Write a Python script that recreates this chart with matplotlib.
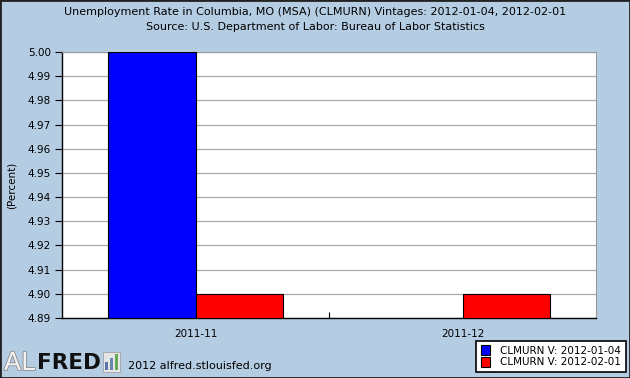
import matplotlib
matplotlib.use("Agg")
import matplotlib.pyplot as plt
import matplotlib.patheffects as pe
from matplotlib.patches import Rectangle
import numpy as np

categories = ["2011-11", "2011-12"]
vintage_1 = [5.00, np.nan]
vintage_2 = [4.90, 4.90]
series_labels = ["CLMURN V: 2012-01-04", "CLMURN V: 2012-02-01"]
yticks = [4.89, 4.90, 4.91, 4.92, 4.93, 4.94, 4.95, 4.96, 4.97, 4.98, 4.99, 5.00]

BG = "#b4cde3"
plt.rcParams['font.family'] = ['DejaVu Sans']

fig = plt.figure(figsize=(6.3, 3.78), dpi=100, facecolor=BG)
fig.patches.append(Rectangle((0, 0), 1, 1, transform=fig.transFigure, fill=False,
                             edgecolor="#222222", linewidth=2, zorder=10))
ax = fig.add_axes([62/630, 1-318/378, (596-62)/630, (318-52)/378])
ax.set_facecolor("white")

x = np.arange(len(categories))
w = 0.326
base = yticks[0]
v1 = np.array(vintage_1)
v2 = np.array(vintage_2)
b1 = ax.bar(x - w/2, v1 - base, w, bottom=base, color="#0000ff", edgecolor="black", linewidth=0.8, zorder=3, label=series_labels[0])
b2 = ax.bar(x + w/2, v2 - base, w, bottom=base, color="#ff0000", edgecolor="black", linewidth=0.8, zorder=3, label=series_labels[1])

ax.set_xlim(-0.5, 1.5)
ax.set_ylim(yticks[0], yticks[-1])
ax.set_yticks(yticks)
ax.set_yticklabels([f"{t:.2f}" for t in yticks], fontsize=7.5)
ax.yaxis.grid(True, color="#aaaaaa", linewidth=0.9, zorder=1)
ax.tick_params(axis='y', direction='out', length=5, width=0.8, pad=3)
ax.set_xticks(x)
ax.set_xticklabels(categories, fontsize=7.5)
ax.tick_params(axis='x', length=0, pad=8)
ax.set_xticks([0.5], minor=True)
ax.tick_params(axis='x', which='minor', direction='in', length=4, width=0.8)
for s in ["left", "bottom"]:
    ax.spines[s].set_color("black")
    ax.spines[s].set_linewidth(1.0)
for s in ["top", "right"]:
    ax.spines[s].set_color("#999999")
    ax.spines[s].set_linewidth(0.8)
ax.set_ylabel("(Percent)", fontsize=7.5, labelpad=8)

fig.text(0.5, 1-12/378, "Unemployment Rate in Columbia, MO (MSA) (CLMURN) Vintages: 2012-01-04, 2012-02-01",
         ha="center", va="center", fontsize=8)
fig.text(0.5, 1-27/378, "Source: U.S. Department of Labor: Bureau of Labor Statistics",
         ha="center", va="center", fontsize=8)

# legend
leg = fig.legend(handles=[b1, b2], labels=series_labels, loc="lower right",
                 bbox_to_anchor=(626/630, 1-372/378), fontsize=7.5, frameon=True,
                 fancybox=False, edgecolor="black", framealpha=1, handlelength=0.9,
                 handleheight=1.1, borderpad=0.45, labelspacing=0.1, handletextpad=1.0,
                 borderaxespad=0)
leg.get_frame().set_linewidth(1.2)

# ALFRED logo
fig.text(4/630, 1-363/378, "AL", fontsize=18, color="#f2f2f2", va="center", ha="left",
         path_effects=[pe.withStroke(linewidth=1.2, foreground="#8a8a8a")])
fig.text(37/630, 1-363/378, "FRED", fontsize=15.5, fontweight="bold", color="#111111", va="center", ha="left")
ix, iy = 103, 352
fig.patches.append(Rectangle((ix/630, 1-(iy+20)/378), 17/630, 20/378, transform=fig.transFigure,
                             facecolor="#e6e6e6", edgecolor="#999999", linewidth=0.5, zorder=5))
for dx, h, c in [(2, 8, "#5577aa"), (7, 12, "#6688aa"), (12, 16, "#66aa55")]:
    fig.patches.append(Rectangle(((ix+dx)/630, 1-(iy+18)/378), 3/630, h/378, transform=fig.transFigure,
                                 facecolor=c, edgecolor="none", zorder=6))
fig.text(128/630, 1-366/378, "2012 alfred.stlouisfed.org", fontsize=8, va="center", ha="left")

fig.savefig("out.png", dpi=100, facecolor=BG)
